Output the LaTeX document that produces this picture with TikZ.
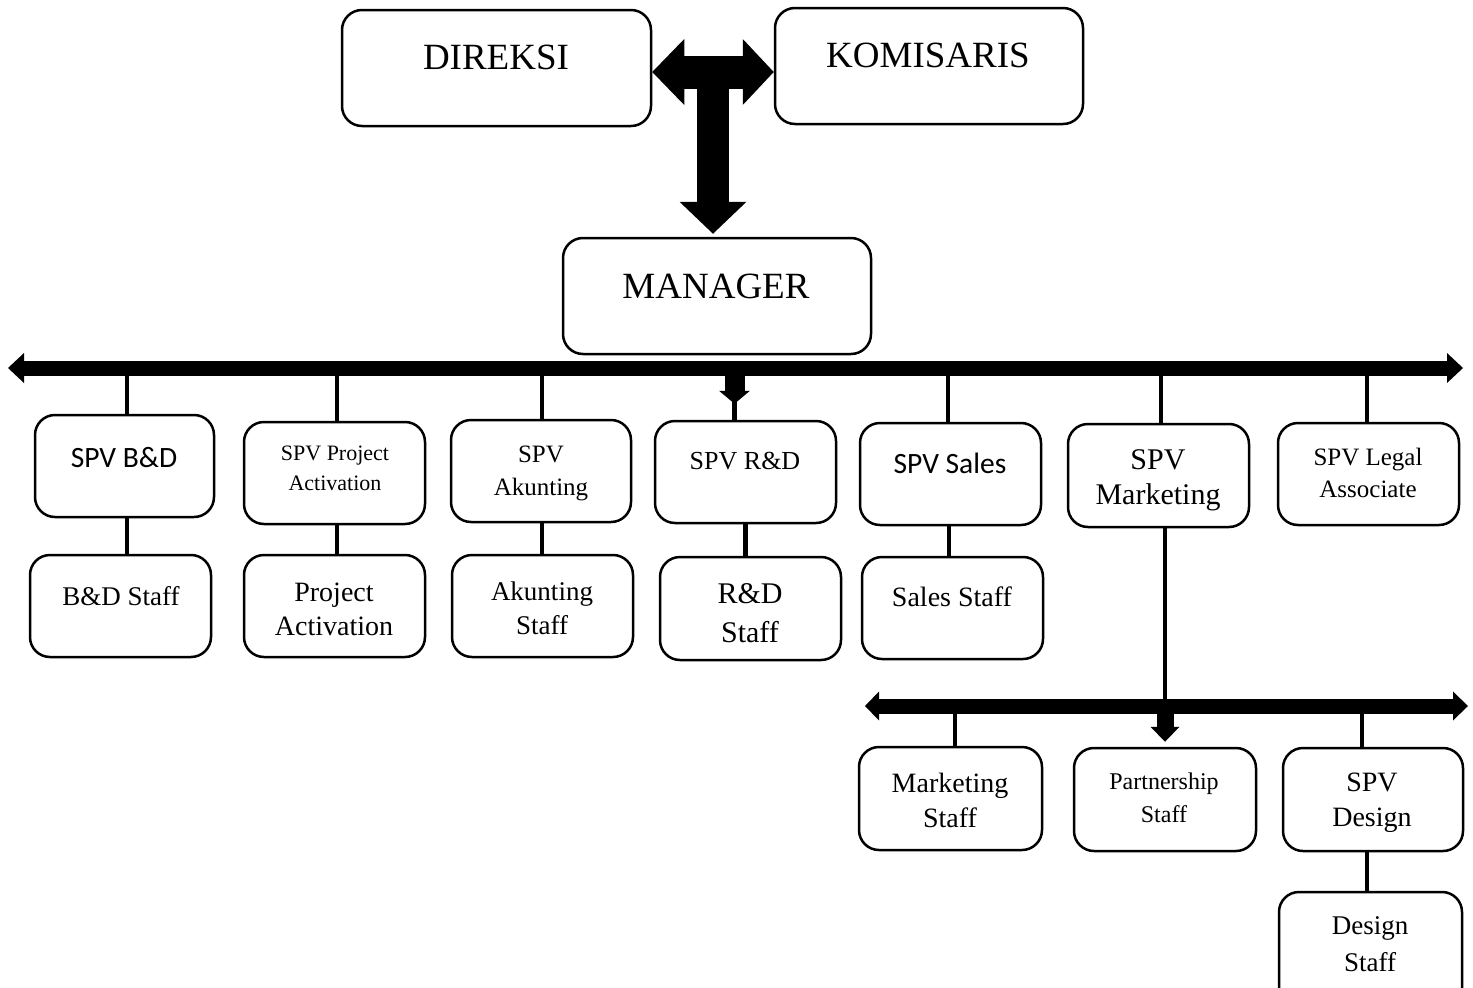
\documentclass[tikz,border=0pt]{standalone}
\usepackage{fontspec}
\setmainfont{Liberation Serif}
\newfontfamily\calibrifont{Carlito}
\usetikzlibrary{arrows.meta,calc}
\newcommand\myfs[2]{\fontsize{#1}{#2}\selectfont}
\begin{document}
\begin{tikzpicture}[x=1pt,y=-1pt,
  box/.style={draw, line width=2.5pt, rounded corners=20pt, inner sep=0pt},
  txt/.style={inner sep=0pt, align=center, text depth=0pt},
  bus/.style={line width=15pt},
  tick/.style={line width=4.5pt}]
\useasboundingbox (0,0) rectangle (1473,988);

% boxes
\node[box, minimum width=309pt, minimum height=116pt] (dir) at (496.5,68) {};
\node[box, minimum width=308pt, minimum height=116pt] (kom) at (929,66) {};
\node[box, minimum width=308pt, minimum height=116pt] (man) at (717,296) {};

\node[box, minimum width=179pt, minimum height=102pt] (sbd) at (124.5,466) {};
\node[box, minimum width=181pt, minimum height=102pt] (spa) at (334.5,473) {};
\node[box, minimum width=180pt, minimum height=102pt] (sak) at (541,471) {};
\node[box, minimum width=181pt, minimum height=102pt] (srd) at (745.5,472) {};
\node[box, minimum width=181pt, minimum height=102pt] (ssa) at (950.5,474) {};
\node[box, minimum width=181pt, minimum height=103pt] (smk) at (1158.5,475.5) {};
\node[box, minimum width=181pt, minimum height=102pt] (slg) at (1368.5,474) {};

\node[box, minimum width=181pt, minimum height=102pt] (bds) at (120.5,606) {};
\node[box, minimum width=181pt, minimum height=102pt] (pas) at (334.5,606) {};
\node[box, minimum width=181pt, minimum height=102pt] (aks) at (542.5,606) {};
\node[box, minimum width=181pt, minimum height=103pt] (rds) at (750.5,608.5) {};
\node[box, minimum width=181pt, minimum height=102pt] (sas) at (952.5,608) {};

\node[box, minimum width=183pt, minimum height=103pt] (mks) at (950.5,798.5) {};
\node[box, minimum width=182pt, minimum height=103pt] (pts) at (1165,799.5) {};
\node[box, minimum width=180pt, minimum height=103pt] (sds) at (1373,799.5) {};
\node[box, minimum width=183pt, minimum height=128pt] (dss) at (1370.5,956) {};

% texts
\node[txt, font=\myfs{37}{42}] (dirT) at (496,57) {DIREKSI};
\node[txt, font=\myfs{37}{42}] (komT) at (928,55) {KOMISARIS};
\node[txt, font=\myfs{37}{42}] (manT) at (716,286) {MANAGER};

\node[txt, font=\calibrifont\myfs{29.5}{33}] (sbdT) at (124,457) {SPV B\&D};
\node[txt, font=\myfs{22}{30}] (spaT) at (335,468.5) {SPV Project\\Activation};
\node[txt, font=\myfs{25}{33}] (sakT) at (541,471) {SPV\\Akunting};
\node[txt, font=\myfs{26}{30}] (srdT) at (745,461) {SPV R\&D};
\node[txt, font=\calibrifont\myfs{29.5}{33}] (ssaT) at (950,463) {SPV Sales};
\node[txt, font=\myfs{30}{35}] (smkT) at (1158,477.5) {SPV\\Marketing};
\node[txt, font=\myfs{25}{32}] (slgT) at (1368,472.5) {SPV Legal\\Associate};

\node[txt, font=\myfs{27}{34}] (bdsT) at (121,596) {B\&D Staff};
\node[txt, font=\myfs{28}{34}] (pasT) at (334,609) {Project\\Activation};
\node[txt, font=\myfs{27}{34}] (aksT) at (542,608) {Akunting\\Staff};
\node[txt, font=\myfs{30}{39}] (rdsT) at (750,613.5) {R\&D\\Staff};
\node[txt, font=\myfs{28}{34}] (sasT) at (952,597) {Sales Staff};

\node[txt, font=\myfs{28}{35}] (mksT) at (950,800) {Marketing\\Staff};
\node[txt, font=\myfs{24}{33}] (ptsT) at (1164,797.5) {Partnership\\Staff};
\node[txt, font=\myfs{28}{35}] (sdsT) at (1372,800) {SPV\\Design};
\node[txt, font=\myfs{27}{37}] (dssT) at (1370,944) {Design\\Staff};

% top T arrow
\coordinate (tj) at (713,72);
\draw[line width=33pt, {Triangle[length=32pt,width=66pt,line width=0pt]}-{Triangle[length=31pt,width=66pt,line width=0pt]}] (dir.east |- tj) -- (kom.west |- tj);
\draw[line width=32pt, -{Triangle[length=32pt,width=67pt,line width=0pt]}] (tj) -- ($(man.north -| tj)+(0,-3)$);

% main bus
\coordinate (b1L) at (8,368);
\coordinate (b1R) at (1463,368);
\draw[bus, {Triangle[length=16pt,width=30pt,line width=0pt]}-{Triangle[length=16pt,width=30pt,line width=0pt]}] (b1L) -- (b1R);

% drops to SPV row
\draw[tick] ($(sbd.north)+(2.5,0)$) coordinate (d1) -- (d1 |- b1L);
\draw[tick] ($(spa.north)+(2.5,0)$) coordinate (d2) -- (d2 |- b1L);
\draw[tick] ($(sak.north)+(1,0)$) coordinate (d3) -- (d3 |- b1L);
\draw[tick] ($(ssa.north)+(-2.5,0)$) coordinate (d5) -- (d5 |- b1L);
\draw[tick] ($(smk.north)+(2.5,0)$) coordinate (d6) -- (d6 |- b1L);
\draw[tick] ($(slg.north)+(-1.5,0)$) coordinate (d7) -- (d7 |- b1L);
% R&D arrow
\coordinate (r1) at ($(srd.north)+(-11,0)$);
\draw[line width=20pt, -{Triangle[length=13pt,width=31pt,line width=0pt]}] (r1 |- b1L) -- ($(r1)+(0,-16)$);
\draw[tick] (r1) -- ($(r1)+(0,-18)$);

% SPV to staff
\draw[tick] ($(sbd.south)+(2.5,0)$) coordinate (c1) -- (c1 |- bds.north);
\draw[tick] ($(spa.south)+(2.5,0)$) coordinate (c2) -- (c2 |- pas.north);
\draw[tick] ($(sak.south)+(1,0)$) coordinate (c3) -- (c3 |- aks.north);
\draw[tick] (srd.south) -- (srd.south |- rds.north);
\draw[tick] ($(ssa.south)+(-1.5,0)$) coordinate (c5) -- (c5 |- sas.north);

% second bus
\coordinate (b2L) at (865,706);
\coordinate (b2R) at (1468,706);
\draw[bus, {Triangle[length=14pt,width=29pt,line width=0pt]}-{Triangle[length=15pt,width=29pt,line width=0pt]}] (b2L) -- (b2R);
\draw[tick] (pts.north |- smk.south) -- (pts.north |- b2L);
\draw[line width=17pt, -{Triangle[length=15pt,width=29pt,line width=0pt]}] (pts.north |- b2L) -- ($(pts.north)+(0,-5)$);
\draw[tick] ($(mks.north)+(4.5,0)$) coordinate (e1) -- (e1 |- b2L);
\draw[tick] ($(sds.north)+(-11,0)$) coordinate (e3) -- (e3 |- b2L);
\draw[tick] ($(dss.north)+(-3.5,0)$) coordinate (c7) -- (c7 |- sds.south);
\end{tikzpicture}
\end{document}
